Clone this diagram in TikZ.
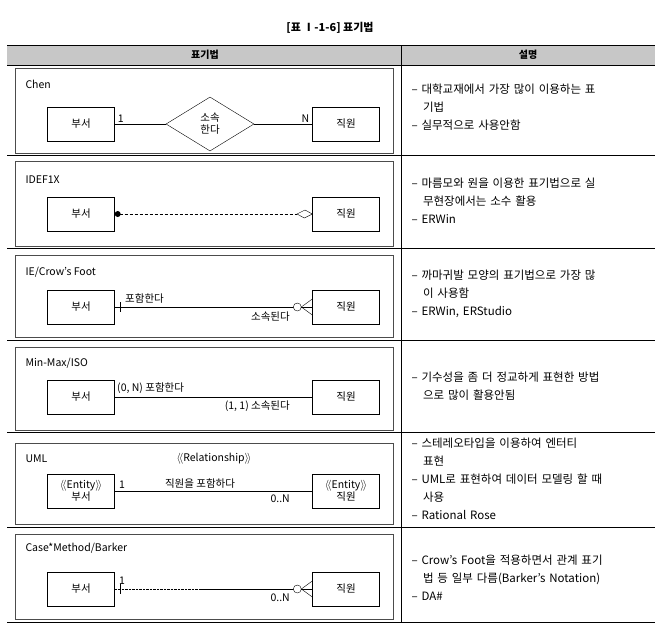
\documentclass[tikz,border=0pt]{standalone}
\usepackage{fontspec}
\setmainfont{Noto Sans CJK KR}
\usetikzlibrary{shapes.geometric}
\newcommand{\dlang}{$\langle\!\langle$}
\newcommand{\drang}{$\rangle\!\rangle$}
\begin{document}
\begin{tikzpicture}[x=1pt,y=-1pt,font=\fontsize{10.5}{12}\selectfont,
  entbox/.style={draw,minimum width=67pt,minimum height=34pt,inner sep=0pt,align=center},
  panel/.style={draw=black!70,thick},
  desc/.style={anchor=north west,align=left,text width=245pt,font=\fontsize{11.5}{18}\selectfont},
  lbl/.style={inner sep=1pt}]
	\useasboundingbox (0,0) rectangle (672,633);
	% frame
	\node[font=\bfseries\fontsize{11}{12}\selectfont] (title) at (330,28) {[표 Ⅰ-1-6] 표기법};
	\fill[black!22] (7,45) rectangle (655,65);
	\draw[semithick] (7,45) -- (655,45);
	\draw[semithick] (7,65) -- (655,65);
	\node[font=\bfseries] (h1) at (205,55) {표기법};
	\node[font=\bfseries] (h2) at (528,55) {설명};
	\draw (401,45) -- (401,622);
	\foreach \y in {155,248,340,432,527} { \draw (7,\y) -- (655,\y);}
	\draw (7,622) -- (655,622);
	% panels
	\foreach \t/\b in {68/153,161/246,255/337,347/430,443/524,534/619} { \draw[panel] (15,\t) rectangle (393,\b);}
	% Chen
	\node[anchor=west] (n1) at (22,84) {Chen};
	\node[entbox] (a1) at (81,124) {부서};
	\node[entbox] (b1) at (346,124) {직원};
	\node[draw,diamond,aspect=1.6,minimum width=88pt,minimum height=54pt,inner sep=0pt,align=center] (r1) at (210,124) {소속\\한다};
	\draw (a1) -- (r1) node[lbl,pos=0.12,above] {1};
	\draw (r1) -- (b1) node[lbl,pos=0.88,above] {N};
	% IDEF1X
	\node[anchor=west] (n2) at (22,180) {IDEF1X};
	\node[entbox] (a2) at (81,214) {부서};
	\node[entbox] (b2) at (346,214) {직원};
	\coordinate (d2) at (297,214);
	\draw[densely dashed] (a2.east) -- (d2);
	\fill (a2.east) ++(3,0) circle (3);
	\draw (d2) -- ++(8,-4) -- (b2.west) -- ++(-8,4) -- cycle;
	% IE / Crow's Foot
	\node[anchor=west] (n3) at (22,272) {IE/Crow's Foot};
	\node[entbox] (a3) at (81,307) {부서};
	\node[entbox] (b3) at (346,307) {직원};
	\draw (a3) -- (b3);
	\draw (a3.east) ++(5,-5) -- ++(0,10);
	\draw[fill=white] (b3.west) ++(-15,0) circle (4);
	\draw (b3.west) ++(0,-8) -- ++(-11,8) -- ++(11,8);
	\node[lbl,anchor=south west] (t3) at (124,305) {포함한다};
	\node[lbl,anchor=north east] (u3) at (291,311) {소속된다};
	% Min-Max / ISO
	\node[anchor=west] (n4) at (22,363) {Min-Max/ISO};
	\node[entbox] (a4) at (81,397) {부서};
	\node[entbox] (b4) at (346,397) {직원};
	\draw (a4) -- (b4);
	\node[lbl,anchor=south west] (t4) at (116,395) {(0, N) 포함한다};
	\node[lbl,anchor=north east] (u4) at (291,400) {(1, 1) 소속된다};
	% UML
	\node[anchor=west] (n5) at (22,459) {UML};
	\node (s5) at (214,459) {\dlang Relationship\drang};
	\node[entbox] (a5) at (81,491) {\dlang Entity\drang\\부서};
	\node[entbox] (b5) at (346,491) {\dlang Entity\drang\\직원};
	\draw (a5) -- (b5);
	\node[lbl,anchor=south west] (t5) at (118,490) {1};
	\node[lbl,anchor=south] (m5) at (200,490) {직원을 포함하다};
	\node[lbl,anchor=north east] (u5) at (291,494) {0..N};
	% Case*Method / Barker
	\node[anchor=west] (n6) at (22,548) {Case*Method/Barker};
	\node[entbox] (a6) at (81,589) {부서};
	\node[entbox] (b6) at (346,589) {직원};
	\coordinate (m6) at (200,589);
	\draw[densely dotted] (a6) -- (m6);
	\draw (m6) -- (b6);
	\draw (a6.east) ++(5,-5) -- ++(0,10);
	\draw[fill=white] (b6.west) ++(-15,0) circle (4);
	\draw (b6.west) ++(0,-8) -- ++(-11,8) -- ++(11,8);
	\node[lbl,anchor=south west] (t6) at (118,586) {1};
	\node[lbl,anchor=north east] (u6) at (291,593) {0..N};
	% descriptions
	\node[desc] (e1) at (408,80) {– 대학교재에서 가장 많이 이용하는 표\\\quad 기법\\– 실무적으로 사용안함};
	\node[desc] (e2) at (408,174) {– 마름모와 원을 이용한 표기법으로 실\\\quad 무현장에서는 소수 활용\\– ERWin};
	\node[desc] (e3) at (408,266) {– 까마귀발 모양의 표기법으로 가장 많\\\quad 이 사용함\\– ERWin, ERStudio};
	\node[desc] (e4) at (408,368) {– 기수성을 좀 더 정교하게 표현한 방법\\\quad 으로 많이 활용안됨};
	\node[desc] (e5) at (408,434) {– 스테레오타입을 이용하여 엔터티\\\quad 표현\\– UML로 표현하여 데이터 모델링 할 때\\\quad 사용\\– Rational Rose};
	\node[desc] (e6) at (408,551) {– Crow's Foot을 적용하면서 관계 표기\\\quad 법 등 일부 다름(Barker's Notation)\\– DA\#};
\end{tikzpicture}
\end{document}
